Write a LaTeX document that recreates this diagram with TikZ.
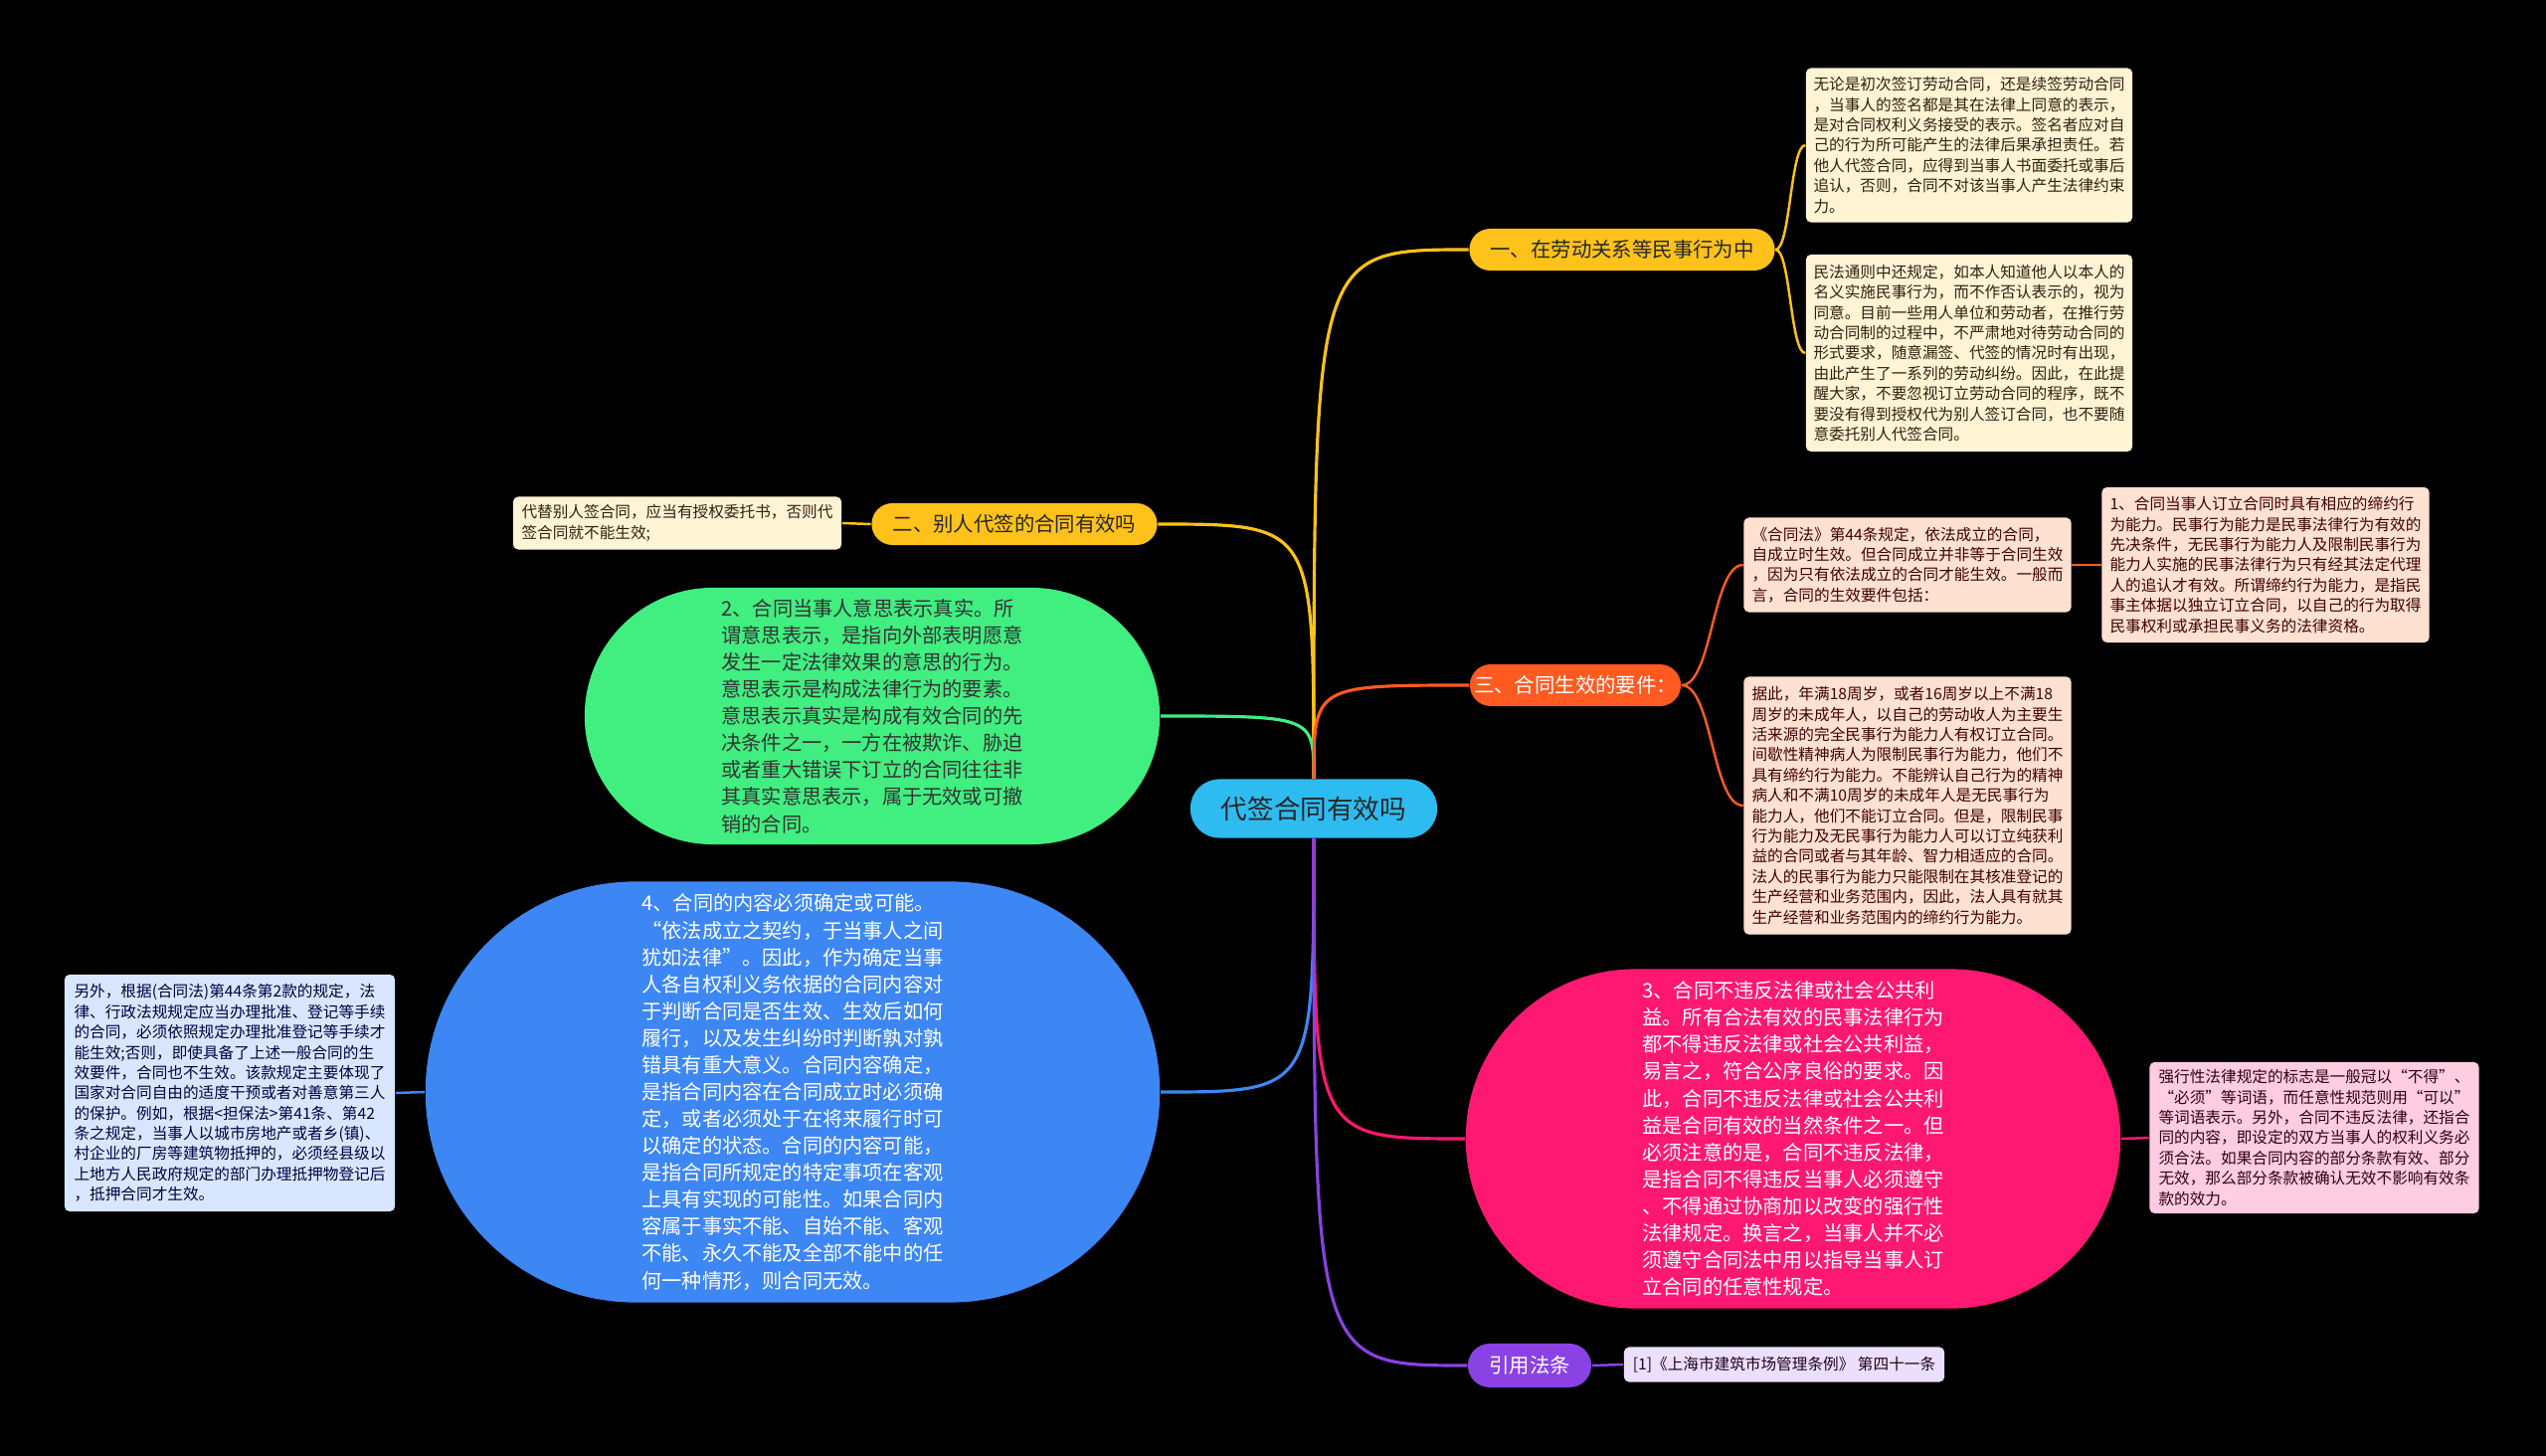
\documentclass[tikz,border=0pt]{standalone}
\usepackage{fontspec}
\setmainfont{Noto Sans CJK SC}
\usetikzlibrary{calc}

\definecolor{rootcol}{HTML}{2EBBF0}
\definecolor{goldcol}{HTML}{FFC21A}
\definecolor{creamcol}{HTML}{FFF4D4}
\definecolor{rustcol}{HTML}{FF5B21}
\definecolor{peachcol}{HTML}{FFE1D2}
\definecolor{mintcol}{HTML}{41EE80}
\definecolor{rosecol}{HTML}{FF1872}
\definecolor{blushcol}{HTML}{FFCCE0}
\definecolor{skycol}{HTML}{3D87F4}
\definecolor{icecol}{HTML}{D8E7FF}
\definecolor{violetcol}{HTML}{8A42E4}
\definecolor{lilaccol}{HTML}{EADFFC}

\begin{document}
\begin{tikzpicture}[x=0.01cm, y=-0.01cm]
  \tikzset{
    leaf/.style={rectangle, rounded corners=0.05cm, inner sep=0pt, align=left,
      font={\fontsize{4.45pt}{5.8pt}\selectfont}},
    blob/.style={rectangle, inner sep=0pt, align=left,
      font={\fontsize{5.75pt}{7.7pt}\selectfont}},
    topic/.style={rectangle, rounded corners=0.21cm, inner sep=0pt,
      minimum height=0.42cm, font={\fontsize{5.8pt}{7pt}\selectfont}},
    branchline/.style={line width=0.9pt, to path={.. controls (\tikztostart |- \tikztotarget) .. (\tikztotarget)}},
    brace/.style={line width=0.7pt, to path={.. controls ($(\tikztostart)!0.5!(\tikztotarget |- \tikztostart)$) and ($(\tikztotarget)!0.5!(\tikztostart |- \tikztotarget)$) .. (\tikztotarget)}},
    twig/.style={line width=0.7pt}
  }
  \fill[black] (0,0) rectangle (2560,1464);
  \useasboundingbox (0,0) rectangle (2560,1464);

  % root
  \node[rectangle, rounded corners=0.29cm, fill=rootcol, minimum width=2.48cm, minimum height=0.59cm,
    font={\fontsize{7.57pt}{9pt}\selectfont}, text=black!85] (root) at (1321,813) {代签合同有效吗};

  % branch one
  \node[topic, fill=goldcol, minimum width=3.07cm, text=black!85] (b1) at (1631,251) {一、在劳动关系等民事行为中};
  \node[leaf, fill=creamcol, text=black!75!brown, minimum width=3.28cm, minimum height=1.55cm] (l1a) at (1980,146) {无论是初次签订劳动合同，还是续签劳动合同\\，当事人的签名都是其在法律上同意的表示，\\是对合同权利义务接受的表示。签名者应对自\\己的行为所可能产生的法律后果承担责任。若\\他人代签合同，应得到当事人书面委托或事后\\追认，否则，合同不对该当事人产生法律约束\\力。};
  \node[leaf, fill=creamcol, text=black!75!brown, minimum width=3.28cm, minimum height=1.98cm] (l1b) at (1980,355) {民法通则中还规定，如本人知道他人以本人的\\名义实施民事行为，而不作否认表示的，视为\\同意。目前一些用人单位和劳动者，在推行劳\\动合同制的过程中，不严肃地对待劳动合同的\\形式要求，随意漏签、代签的情况时有出现，\\由此产生了一系列的劳动纠纷。因此，在此提\\醒大家，不要忽视订立劳动合同的程序，既不\\要没有得到授权代为别人签订合同，也不要随\\意委托别人代签合同。};

  % branch two
  \node[topic, fill=goldcol, minimum width=2.87cm, text=black!85] (b2) at (1020,527) {二、别人代签的合同有效吗};
  \node[leaf, fill=creamcol, text=black!75!brown, minimum width=3.30cm, minimum height=0.53cm] (l2) at (681,526) {代替别人签合同，应当有授权委托书，否则代\\签合同就不能生效;};

  % green
  \node[blob, fill=mintcol, rounded corners=1.29cm, minimum width=5.78cm, minimum height=2.58cm, text=black!80] (gr) at (877,720) {2、合同当事人意思表示真实。所\\谓意思表示，是指向外部表明愿意\\发生一定法律效果的意思的行为。\\意思表示是构成法律行为的要素。\\意思表示真实是构成有效合同的先\\决条件之一，一方在被欺诈、胁迫\\或者重大错误下订立的合同往往非\\其真实意思表示，属于无效或可撤\\销的合同。};

  % branch three
  \node[topic, fill=rustcol, minimum width=2.12cm, text=white] (b3) at (1584,689) {三、合同生效的要件：};
  \node[leaf, fill=peachcol, text=black!75!red, minimum width=3.29cm, minimum height=0.95cm] (l3a) at (1918,568) {《合同法》第44条规定，依法成立的合同，\\自成立时生效。但合同成立并非等于合同生效\\，因为只有依法成立的合同才能生效。一般而\\言，合同的生效要件包括：};
  \node[leaf, fill=peachcol, text=black!75!red, minimum width=3.29cm, minimum height=1.56cm] (l3c) at (2278,568) {1、合同当事人订立合同时具有相应的缔约行\\为能力。民事行为能力是民事法律行为有效的\\先决条件，无民事行为能力人及限制民事行为\\能力人实施的民事法律行为只有经其法定代理\\人的追认才有效。所谓缔约行为能力，是指民\\事主体据以独立订立合同，以自己的行为取得\\民事权利或承担民事义务的法律资格。};
  \node[leaf, fill=peachcol, text=black!75!red, minimum width=3.29cm, minimum height=2.59cm] (l3b) at (1918,810) {据此，年满18周岁，或者16周岁以上不满18\\周岁的未成年人，以自己的劳动收人为主要生\\活来源的完全民事行为能力人有权订立合同。\\间歇性精神病人为限制民事行为能力，他们不\\具有缔约行为能力。不能辨认自己行为的精神\\病人和不满10周岁的未成年人是无民事行为\\能力人，他们不能订立合同。但是，限制民事\\行为能力及无民事行为能力人可以订立纯获利\\益的合同或者与其年龄、智力相适应的合同。\\法人的民事行为能力只能限制在其核准登记的\\生产经营和业务范围内，因此，法人具有就其\\生产经营和业务范围内的缔约行为能力。};

  % pink
  \node[blob, fill=rosecol, rounded corners=1.70cm, minimum width=6.58cm, minimum height=3.41cm, text=white] (pk) at (1803,1145) {3、合同不违反法律或社会公共利\\益。所有合法有效的民事法律行为\\都不得违反法律或社会公共利益，\\易言之，符合公序良俗的要求。因\\此，合同不违反法律或社会公共利\\益是合同有效的当然条件之一。但\\必须注意的是，合同不违反法律，\\是指合同不得违反当事人必须遵守\\、不得通过协商加以改变的强行性\\法律规定。换言之，当事人并不必\\须遵守合同法中用以指导当事人订\\立合同的任意性规定。};
  \node[leaf, fill=blushcol, text=black!75!purple, minimum width=3.31cm, minimum height=1.52cm] (pkl) at (2327,1144) {强行性法律规定的标志是一般冠以“不得”、\\“必须”等词语，而任意性规范则用“可以”\\等词语表示。另外，合同不违反法律，还指合\\同的内容，即设定的双方当事人的权利义务必\\须合法。如果合同内容的部分条款有效、部分\\无效，那么部分条款被确认无效不影响有效条\\款的效力。};

  % blue
  \node[blob, fill=skycol, rounded corners=2.11cm, minimum width=7.38cm, minimum height=4.23cm, text=white] (bl) at (797,1098) {4、合同的内容必须确定或可能。\\“依法成立之契约，于当事人之间\\犹如法律”。因此，作为确定当事\\人各自权利义务依据的合同内容对\\于判断合同是否生效、生效后如何\\履行，以及发生纠纷时判断孰对孰\\错具有重大意义。合同内容确定，\\是指合同内容在合同成立时必须确\\定，或者必须处于在将来履行时可\\以确定的状态。合同的内容可能，\\是指合同所规定的特定事项在客观\\上具有实现的可能性。如果合同内\\容属于事实不能、自始不能、客观\\不能、永久不能及全部不能中的任\\何一种情形，则合同无效。};
  \node[leaf, fill=icecol, text=black!75!blue, minimum width=3.32cm, minimum height=2.38cm] (bll) at (231,1099) {另外，根据(合同法)第44条第2款的规定，法\\律、行政法规规定应当办理批准、登记等手续\\的合同，必须依照规定办理批准登记等手续才\\能生效;否则，即使具备了上述一般合同的生\\效要件，合同也不生效。该款规定主要体现了\\国家对合同自由的适度干预或者对善意第三人\\的保护。例如，根据<担保法>第41条、第42\\条之规定，当事人以城市房地产或者乡(镇)、\\村企业的厂房等建筑物抵押的，必须经县级以\\上地方人民政府规定的部门办理抵押物登记后\\，抵押合同才生效。};

  % citation
  \node[topic, fill=violetcol, minimum width=1.24cm, minimum height=0.44cm, rounded corners=0.22cm, text=white] (cite) at (1538,1373) {引用法条};
  \node[leaf, fill=lilaccol, text=black!75!violet, minimum width=3.22cm, minimum height=0.35cm] (citel) at (1794,1372) {[1]《上海市建筑市场管理条例》 第四十一条};

  % connectors from root
  \draw[goldcol, branchline] (root.north) to (b1.west);
  \draw[goldcol, branchline] (root.north) to (b2.east);
  \draw[mintcol, branchline] (root.north) to (gr.east);
  \draw[rustcol, branchline] (root.north) to (b3.west);
  \draw[skycol, branchline] (root.south) to (bl.east);
  \draw[rosecol, branchline] (root.south) to (pk.west);
  \draw[violetcol, branchline] (root.south) to (cite.west);

  % connectors to leaves
  \draw[goldcol, brace] (b1.east) to (l1a.west);
  \draw[goldcol, brace] (b1.east) to (l1b.west);
  \draw[goldcol, twig] (b2.west) -- (l2.east);
  \draw[rustcol, brace] (b3.east) to (l3a.west);
  \draw[rustcol, brace] (b3.east) to (l3b.west);
  \draw[rustcol, twig] (l3a.east) -- (l3c.west);
  \draw[rosecol, twig] (pk.east) -- (pkl.west);
  \draw[skycol, twig] (bl.west) -- (bll.east);
  \draw[violetcol, twig] (cite.east) -- (citel.west);
\end{tikzpicture}
\end{document}
